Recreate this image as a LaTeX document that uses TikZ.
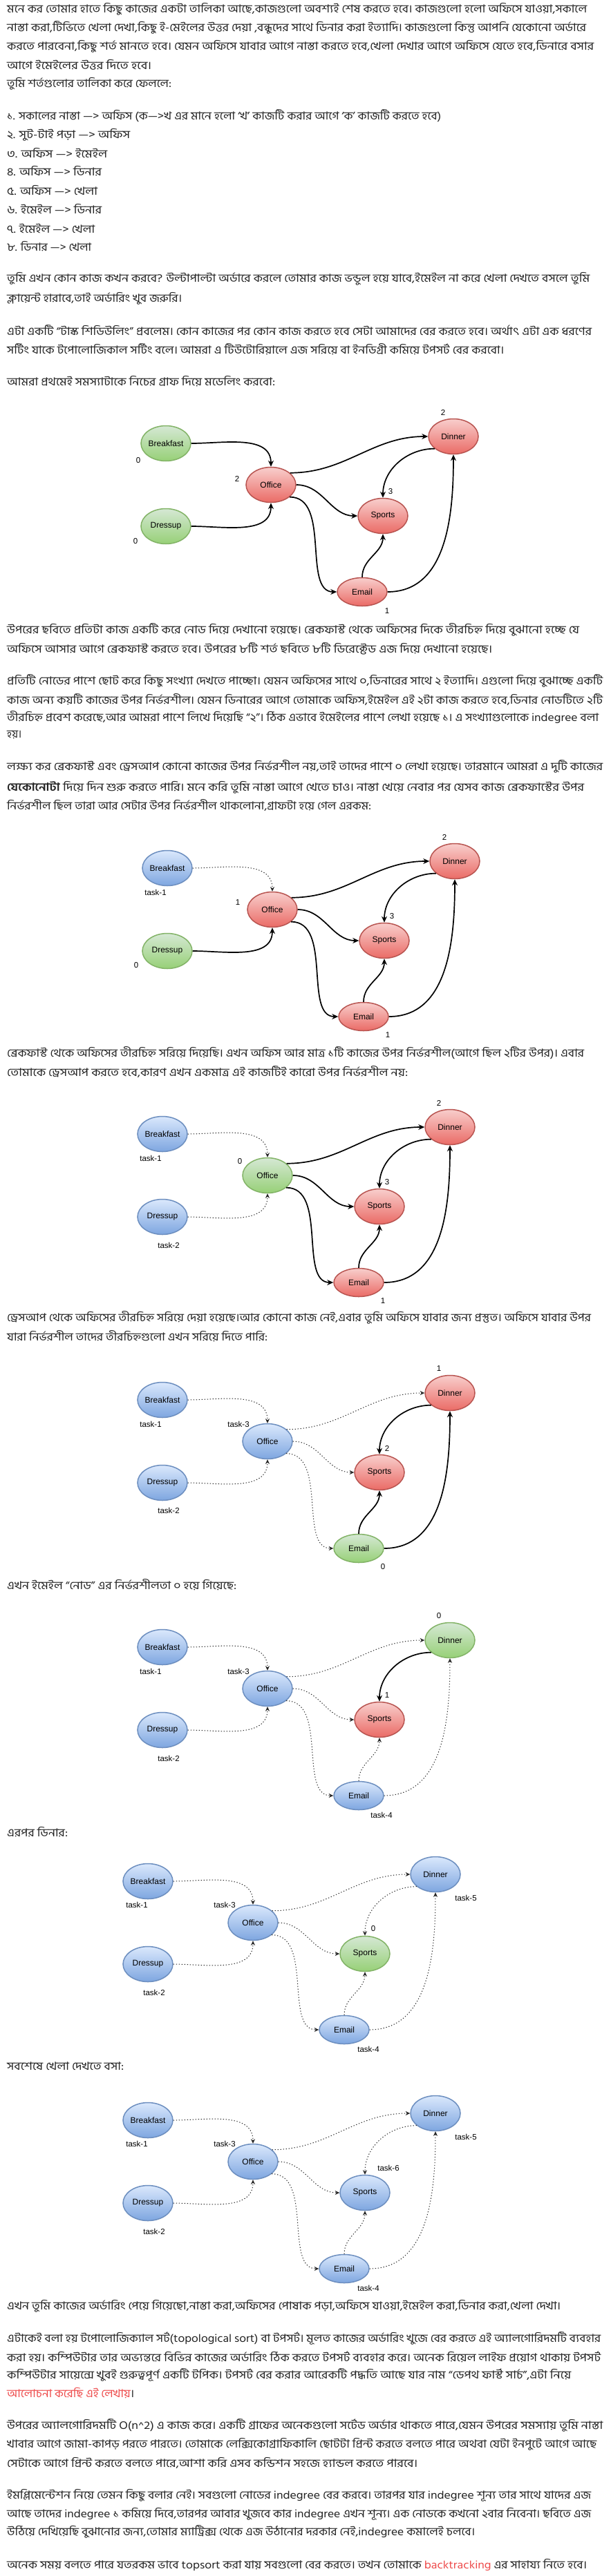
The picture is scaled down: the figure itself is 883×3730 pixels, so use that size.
\documentclass[tikz,border=0pt]{standalone}
\usepackage{fontspec}
\usepackage{graphicx}
\usetikzlibrary{shapes.geometric,arrows.meta}
\newfontfamily\bn[Script=Bengali]{Hind Siliguri}
\newfontfamily\lsans{Liberation Sans}
\definecolor{grT}{HTML}{D5E8D4}\definecolor{grB}{HTML}{97D077}\definecolor{grS}{HTML}{82B366}
\definecolor{rdT}{HTML}{F8CECC}\definecolor{rdB}{HTML}{EA6B66}\definecolor{rdS}{HTML}{B85450}
\definecolor{blT}{HTML}{DAE8FC}\definecolor{blB}{HTML}{7EA6E0}\definecolor{blS}{HTML}{6C8EBF}
\definecolor{txt}{HTML}{222222}
\definecolor{lnk}{HTML}{EE4B4B}
\newcommand\nl[1]{\makebox[0pt]{#1}}
\newcommand\tl[4]{\node[tx] (#1) at (10,#2) {\resizebox{#3pt}{\height}{#4}};}
\newcommand\gnodes[6]{%
 \node[#1] (B) at (-152,-60) {\nl{Breakfast}};
 \node[#2] (D) at (-152,60) {\nl{Dressup}};
 \node[#3] (O) at (0,0) {\nl{Office}};
 \node[#4] (Di) at (264,-70) {\nl{Dinner}};
 \node[#5] (S) at (162,45) {\nl{Sports}};
 \node[#6,minimum height=41pt] (E) at (132,155) {\nl{Email}};}
\newcommand\gedges[8]{%
 \draw[#1] (B.east) to[out=0,in=90] (O.north);
 \draw[#2] (D.east) to[out=0,in=-90] (O.south);
 \draw[#3] (O.32) to[out=0,in=180] (Di.west);
 \draw[#4] (O.east) to[out=0,in=180] (S.west);
 \draw[#5] (O.-33) .. controls +(60,0) and +(-50,0) .. (E.west);
 \draw[#6] (Di.213) to[out=180,in=90] (S.north);
 \draw[#7] (E.north) to[out=90,in=-90] (S.south);
 \draw[#8] (E.east) to[out=0,in=-90] (Di.south);}
\tikzset{
 gnode/.style={ellipse, minimum width=72pt, minimum height=51pt, inner sep=0pt, line width=1.5pt, font=\lsans\fontsize{12}{14}\selectfont},
 gr/.style={gnode, draw=grS, top color=grT, bottom color=grB},
 rd/.style={gnode, draw=rdS, top color=rdT, bottom color=rdB},
 bl/.style={gnode, draw=blS, top color=blT, bottom color=blB},
 sol/.style={draw=black, line width=1.7pt, -{Stealth[length=9pt,width=8pt,inset=3pt]}},
 dot/.style={draw=black!85, line width=1pt, dash pattern=on 1.3pt off 2.7pt, -{Stealth[length=6.5pt,width=6pt,inset=2pt]}},
 lbl/.style={font=\lsans\fontsize{11.5}{13}\selectfont, inner sep=0pt, text=black},
 tx/.style={anchor=west, inner sep=0pt, text=txt, font=\bn\fontsize{16}{18}\selectfont}
}
\begin{document}
\begin{tikzpicture}[x=1pt,y=-1pt]
\fill[white] (0,0) rectangle (883,3730);
\useasboundingbox (0,0) rectangle (883,3730);
% ---------- text before graph 1
\tl{a1}{13}{839}{মনে কর তোমার হাতে কিছু কাজের একটা তালিকা আছে,কাজগুলো অবশ্যই শেষ করতে হবে। কাজগুলো হলো অফিসে যাওয়া,সকালে}
\tl{a2}{40}{838}{নাস্তা করা,টিভিতে খেলা দেখা,কিছু ই-মেইলের উত্তর দেয়া ,বন্ধুদের সাথে ডিনার করা ইত্যাদি। কাজগুলো কিন্তু আপনি যেকোনো অর্ডারে}
\tl{a3}{67}{849}{করতে পারবেনা,কিছু শর্ত মানতে হবে। যেমন অফিসে যাবার আগে নাস্তা করতে হবে,খেলা দেখার আগে অফিসে যেতে হবে,ডিনারে বসার}
\tl{a4}{94}{209}{আগে ইমেইলের উত্তর দিতে হবে।}
\tl{a5}{121}{238}{তুমি শর্তগুলোর তালিকা করে ফেললে:}
\tl{b1}{168}{628}{১. সকালের নাস্তা —> অফিস (ক—>খ এর মানে হলো ‘খ’ কাজটি করার আগে ‘ক’ কাজটি করতে হবে)}
\tl{b2}{195}{178}{২. সুট-টাই পড়া —> অফিস}
\tl{b3}{222}{145}{৩. অফিস —> ইমেইল}
\tl{b4}{248}{137}{৪. অফিস —> ডিনার}
\tl{b5}{276}{131}{৫. অফিস —> খেলা}
\tl{b6}{303}{137}{৬. ইমেইল —> ডিনার}
\tl{b7}{331}{127}{৭. ইমেইল —> খেলা}
\tl{b8}{357}{122}{৮. ডিনার —> খেলা}
\tl{c1}{404}{843}{তুমি এখন কোন কাজ কখন করবে? উল্টাপাল্টা অর্ডারে করলে তোমার কাজ ভন্ডুল হয়ে যাবে,ইমেইল না করে খেলা দেখতে বসলে তুমি}
\tl{c2}{432}{253}{ক্লায়েন্ট হারাবে,তাই অর্ডারিং খুব জরুরি।}
\tl{d1}{478}{846}{এটা একটি “টাস্ক শিডিউলিং” প্রবলেম। কোন কাজের পর কোন কাজ করতে হবে সেটা আমাদের বের করতে হবে। অর্থাৎ এটা এক ধরণের}
\tl{d2}{506}{719}{সর্টিং যাকে টপোলোজিকাল সর্টিং বলে। আমরা এ টিউটোরিয়ালে এজ সরিয়ে বা ইনডিগ্রী কমিয়ে টপসর্ট বের করবো।}
\tl{e1}{552}{388}{আমরা প্রথমেই সমস্যাটাকে নিচের গ্রাফ দিয়ে মডেলিং করবো:}
% ---------- graph 1
\begin{scope}[shift={(392,702)}, name prefix=g1-]
\gnodes{gr}{gr}{rd}{rd}{rd}{rd}
\gedges{sol}{sol}{sol}{sol}{sol}{sol}{sol}{sol}
\node[lbl] (lB) at (-192,-35) {0};
\node[lbl] (lD) at (-196,82) {0};
\node[lbl] (lO) at (-49,-9) {2};
\node[lbl] (lDi) at (249,-105) {2};
\node[lbl] (lS) at (173,10) {3};
\node[lbl] (lE) at (168,183) {1};
\end{scope}
\tl{f1}{912}{828}{উপরের ছবিতে প্রতিটা কাজ একটি করে নোড দিয়ে দেখানো হয়েছে। ব্রেকফাস্ট থেকে অফিসের দিকে তীরচিহ্ন দিয়ে বুঝানো হচ্ছে যে}
\tl{f2}{939}{702}{অফিসে আসার আগে ব্রেকফাস্ট করতে হবে। উপরের ৮টি শর্ত ছবিতে ৮টি ডিরেক্টেড এজ দিয়ে দেখানো হয়েছে।}
\tl{g1t}{986}{862}{প্রতিটি নোডের পাশে ছোট করে কিছু সংখ্যা দেখতে পাচ্ছো। যেমন অফিসের সাথে ০,ডিনারের সাথে ২ ইত্যাদি। এগুলো দিয়ে বুঝাচ্ছে একটি}
\tl{g2t}{1013}{862}{কাজ অন্য কয়টি কাজের উপর নির্ভরশীল। যেমন ডিনারের আগে তোমাকে অফিস,ইমেইল এই ২টা কাজ করতে হবে,ডিনার নোডটিতে ২টি}
\tl{g3t}{1039}{856}{তীরচিহ্ন প্রবেশ করেছে,আর আমরা পাশে লিখে দিয়েছি “২”। ঠিক এভাবে ইমেইলের পাশে লেখা হয়েছে ১। এ সংখ্যাগুলোকে indegree বলা}
\tl{g4t}{1064}{21}{হয়।}
\tl{h1}{1110}{862}{লক্ষ্য কর ব্রেকফাস্ট এবং ড্রেসআপ কোনো কাজের উপর নির্ভরশীল নয়,তাই তাদের পাশে ০ লেখা হয়েছে। তারমানে আমরা এ দুটি কাজের}
\tl{h2}{1140}{835}{\textbf{যেকোনোটা} দিয়ে দিন শুরু করতে পারি। মনে করি তুমি নাস্তা আগে খেতে চাও। নাস্তা খেয়ে নেবার পর যেসব কাজ ব্রেকফাস্টের উপর}
\tl{h3}{1166}{527}{নির্ভরশীল ছিল তারা আর সেটার উপর নির্ভরশীল থাকলোনা,গ্রাফটা হয়ে গেল এরকম:}
% ---------- graph 2
\begin{scope}[shift={(394,1317)}, name prefix=g2-]
\gnodes{bl}{gr}{rd}{rd}{rd}{rd}
\gedges{dot}{sol}{sol}{sol}{sol}{sol}{sol}{sol}
\node[lbl] (lB) at (-169,-25) {task-1};
\node[lbl] (lD) at (-197,81) {0};
\node[lbl] (lO) at (-50,-10) {1};
\node[lbl] (lDi) at (249,-105) {2};
\node[lbl] (lS) at (173,10) {3};
\node[lbl] (lE) at (167,182) {1};
\end{scope}
\tl{i1}{1525}{835}{ব্রেকফাস্ট থেকে অফিসের তীরচিহ্ন সরিয়ে দিয়েছি। এখন অফিস আর মাত্র ১টি কাজের উপর নির্ভরশীল(আগে ছিল ২টির উপর)। এবার}
\tl{i2}{1552}{580}{তোমাকে ড্রেসআপ করতে হবে,কারণ এখন একমাত্র এই কাজটিই কারো উপর নির্ভরশীল নয়:}
% ---------- graph 3
\begin{scope}[shift={(387,1702)}, name prefix=g3-]
\gnodes{bl}{bl}{gr}{rd}{rd}{rd}
\gedges{dot}{dot}{sol}{sol}{sol}{sol}{sol}{sol}
\node[lbl] (lB) at (-169,-25) {task-1};
\node[lbl] (lD) at (-143,101) {task-2};
\node[lbl] (lO) at (-40,-20) {0};
\node[lbl] (lDi) at (248,-105) {2};
\node[lbl] (lS) at (173,10) {3};
\node[lbl] (lE) at (167,182) {1};
\end{scope}
\tl{j1}{1908}{845}{ড্রেসআপ থেকে অফিসের তীরচিহ্ন সরিয়ে দেয়া হয়েছে।আর কোনো কাজ নেই,এবার তুমি অফিসে যাবার জন্য প্রস্তুত। অফিসে যাবার উপর}
\tl{j2}{1935}{377}{যারা নির্ভরশীল তাদের তীরচিহ্নগুলো এখন সরিয়ে দিতে পারি:}
% ---------- graph 4
\begin{scope}[shift={(387,2087)}, name prefix=g4-]
\gnodes{bl}{bl}{bl}{rd}{rd}{gr}
\gedges{dot}{dot}{dot}{dot}{dot}{sol}{sol}{sol}
\node[lbl] (lB) at (-169,-25) {task-1};
\node[lbl] (lO) at (-42,-25) {task-3};
\node[lbl] (lD) at (-143,100) {task-2};
\node[lbl] (lDi) at (248,-105) {1};
\node[lbl] (lS) at (173,10) {2};
\node[lbl] (lE) at (167,182) {0};
\end{scope}
\tl{k1}{2295}{332}{এখন ইমেইল “নোড” এর নির্ভরশীলতা ০ হয়ে গিয়েছে:}
% ---------- graph 5
\begin{scope}[shift={(387,2445)}, name prefix=g5-]
\gnodes{bl}{bl}{bl}{gr}{rd}{bl}
\gedges{dot}{dot}{dot}{dot}{dot}{sol}{dot}{dot}
\node[lbl] (lB) at (-169,-25) {task-1};
\node[lbl] (lO) at (-42,-25) {task-3};
\node[lbl] (lD) at (-143,101) {task-2};
\node[lbl] (lDi) at (248,-105) {0};
\node[lbl] (lS) at (173,10) {1};
\node[lbl] (lE) at (165,183) {task-4};
\end{scope}
\tl{l1}{2653}{88}{এরপর ডিনার:}
% ---------- graph 6
\begin{scope}[shift={(366,2784)}, name prefix=g6-]
\gnodes{bl}{bl}{bl}{bl}{gr}{bl}
\gedges{dot}{dot}{dot}{dot}{dot}{dot}{dot}{dot}
\node[lbl] (lB) at (-168,-26) {task-1};
\node[lbl] (lO) at (-41,-26) {task-3};
\node[lbl] (lD) at (-143,101) {task-2};
\node[lbl] (lDi) at (308,-36) {task-5};
\node[lbl] (lS) at (174,9) {0};
\node[lbl] (lE) at (167,183) {task-4};
\end{scope}
\tl{m1}{2992}{169}{সবশেষে খেলা দেখতে বসা:}
% ---------- graph 7
\begin{scope}[shift={(366,3130)}, name prefix=g7-]
\gnodes{bl}{bl}{bl}{bl}{bl}{bl}
\gedges{dot}{dot}{dot}{dot}{dot}{dot}{dot}{dot}
\node[lbl] (lB) at (-168,-26) {task-1};
\node[lbl] (lO) at (-41,-26) {task-3};
\node[lbl] (lD) at (-143,101) {task-2};
\node[lbl] (lDi) at (308,-36) {task-5};
\node[lbl] (lS) at (196,9) {task-6};
\node[lbl] (lE) at (167,183) {task-4};
\end{scope}
% ---------- final text
\tl{n1}{3339}{801}{এখন তুমি কাজের অর্ডারিং পেয়ে গিয়েছো,নাস্তা করা,অফিসের পোষাক পড়া,অফিসে যাওয়া,ইমেইল করা,ডিনার করা,খেলা দেখা।}
\tl{o1}{3386}{859}{এটাকেই বলা হয় টপোলোজিক্যাল সর্ট(topological sort) বা টপসর্ট। মূলত কাজের অর্ডারিং খুজে বের করতে এই অ্যালগোরিদমটি ব্যবহার}
\tl{o2}{3413}{859}{করা হয়। কম্পিউটার তার অভ্যন্তরে বিভিন্ন কাজের অর্ডারিং ঠিক করতে টপসর্ট ব্যবহার করে। অনেক রিয়েল লাইফ প্রয়োগ থাকায় টপসর্ট}
\tl{o3}{3439}{816}{কম্পিউটার সায়েন্সে খুবই গুরুত্বপূর্ণ একটি টপিক। টপসর্ট বের করার আরেকটি পদ্ধতি আছে যার নাম “ডেপথ ফার্স্ট সার্চ”,এটা নিয়ে}
\tl{o4}{3465}{184}{{\color{lnk}আলোচনা করেছি এই লেখায়}।}
\tl{p1}{3512}{862}{উপরের অ্যালগোরিদমটি O(n\textasciicircum2) এ কাজ করে। একটি গ্রাফের অনেকগুলো সর্টেড অর্ডার থাকতে পারে,যেমন উপরের সমস্যায় তুমি নাস্তা}
\tl{p2}{3539}{853}{খাবার আগে জামা-কাপড় পরতে পারতে। তোমাকে লেক্সিকোগ্রাফিকালি ছোটটা প্রিন্ট করতে বলতে পারে অথবা যেটা ইনপুটে আগে আছে}
\tl{p3}{3566}{594}{সেটাকে আগে প্রিন্ট করতে বলতে পারে,আশা করি এসব কন্ডিশন সহজে হ্যান্ডল করতে পারবে।}
\tl{q1}{3613}{845}{ইমপ্লিমেন্টেশন নিয়ে তেমন কিছু বলার নেই। সবগুলো নোডের indegree বের করবে। তারপর যার indegree শূন্য তার সাথে যাদের এজ}
\tl{q2}{3640}{845}{আছে তাদের indegree ১ কমিয়ে দিবে,তারপর আবার খুজবে কার indegree এখন শূন্য। এক নোডকে কখনো ২বার নিবেনা। ছবিতে এজ}
\tl{q3}{3666}{677}{উঠিয়ে দেখিয়েছি বুঝানোর জন্য,তোমার ম্যাট্রিক্স থেকে এজ উঠানোর দরকার নেই,indegree কমালেই চলবে।}
\tl{r1}{3714}{839}{অনেক সময় বলতে পারে যতরকম ভাবে topsort করা যায় সবগুলো বের করতে। তখন তোমাকে {\color{lnk}backtracking} এর সাহায্য নিতে হবে।}
\end{tikzpicture}
\end{document}
